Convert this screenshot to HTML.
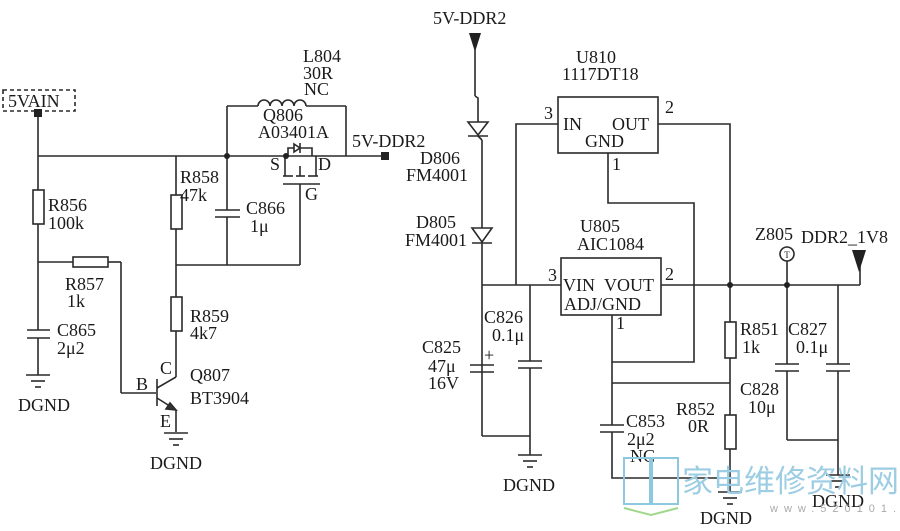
<!DOCTYPE html>
<html><head><meta charset="utf-8"><style>
html,body{margin:0;padding:0;background:#fff;}
svg{display:block;}
text{font-family:"Liberation Serif","Noto Serif CJK SC",serif;font-size:18px;fill:#1a1a1a;}
</style></head><body>
<svg width="900" height="531" viewBox="0 0 900 531" xmlns="http://www.w3.org/2000/svg">
<g stroke="#2a2a2a" stroke-width="1.6" fill="none">
<rect x="3" y="90" width="72" height="21" stroke-dasharray="4,3"/>
<line x1="38" y1="113" x2="38" y2="190"/>
<rect x="33" y="190" width="11" height="34" fill="#fff"/>
<line x1="38" y1="224" x2="38" y2="330"/>
<line x1="27" y1="330" x2="50" y2="330"/><line x1="27" y1="338" x2="50" y2="338"/>
<line x1="38" y1="338" x2="38" y2="375"/>
<line x1="26" y1="375" x2="50" y2="375"/><line x1="31" y1="381" x2="45" y2="381"/><line x1="35" y1="387" x2="41" y2="387"/>
<line x1="38" y1="156" x2="385" y2="156"/>
<line x1="38" y1="262" x2="73" y2="262"/>
<rect x="73" y="257" width="35" height="10" fill="#fff"/>
<line x1="108" y1="262" x2="121" y2="262"/>
<line x1="121" y1="262" x2="121" y2="393"/>
<line x1="121" y1="393" x2="156" y2="393"/>
<line x1="176" y1="156" x2="176" y2="195"/>
<rect x="171" y="195" width="11" height="34" fill="#fff"/>
<line x1="176" y1="229" x2="176" y2="297"/>
<line x1="176" y1="265" x2="300" y2="265"/>
<rect x="171" y="297" width="11" height="34" fill="#fff"/>
<line x1="176" y1="331" x2="176" y2="377"/>
<line x1="157" y1="379" x2="157" y2="406"/>
<line x1="157" y1="388" x2="176" y2="377"/>
<line x1="157" y1="398" x2="176" y2="410"/>
<polygon points="176,410 166,409 170,403" fill="#333"/>
<line x1="176" y1="410" x2="176" y2="432"/>
<line x1="164" y1="433" x2="188" y2="433"/><line x1="169" y1="439" x2="183" y2="439"/><line x1="173" y1="445" x2="179" y2="445"/>
<line x1="227" y1="156" x2="227" y2="210"/>
<line x1="215" y1="210" x2="240" y2="210"/><line x1="215" y1="217" x2="240" y2="217"/>
<line x1="227" y1="217" x2="227" y2="265"/>
<line x1="227" y1="156" x2="227" y2="106"/>
<line x1="227" y1="106" x2="258" y2="106"/>
<path d="M258,106 a6,6 0 0 1 12,0 a6,6 0 0 1 12,0 a6,6 0 0 1 12,0 a6,6 0 0 1 12,0"/>
<line x1="306" y1="106" x2="346" y2="106"/>
<line x1="346" y1="106" x2="346" y2="156"/>
<line x1="285" y1="156" x2="285" y2="176"/>
<line x1="316" y1="156" x2="316" y2="176"/>
<line x1="283" y1="176" x2="293" y2="176"/><line x1="296" y1="176" x2="305" y2="176"/><line x1="308" y1="176" x2="318" y2="176"/>
<line x1="300" y1="176" x2="300" y2="166"/>
<line x1="283" y1="184" x2="320" y2="184"/>
<line x1="300" y1="184" x2="300" y2="265"/>
<polyline points="288,156 288,148 312,148 312,156"/>
<polygon points="300,148 294,144 294,152" fill="#fff"/>
<line x1="300" y1="143" x2="300" y2="153"/>
<polygon points="469,33 481,33 475,52" fill="#222" stroke="none"/>
<line x1="475" y1="48" x2="475" y2="96"/>
<polyline points="475,96 478,98 478,122"/>
<polygon points="468,122 488,122 478,135" fill="#fff"/>
<line x1="468" y1="136" x2="488" y2="136"/>
<line x1="478" y1="136" x2="482" y2="140"/>
<line x1="482" y1="140" x2="482" y2="228"/>
<polygon points="472,228 492,228 482,242" fill="#fff"/>
<line x1="472" y1="243" x2="492" y2="243"/>
<line x1="482" y1="243" x2="482" y2="436"/>
<rect x="558" y="97" width="100" height="56"/>
<polyline points="558,124 516,124 516,285"/>
<polyline points="658,124 730,124 730,322"/>
<polyline points="608,153 608,203 694,203 694,362 612,362"/>
<rect x="561" y="258" width="100" height="57"/>
<line x1="482" y1="285" x2="561" y2="285"/>
<line x1="661" y1="285" x2="860" y2="285"/>
<line x1="612" y1="315" x2="612" y2="425"/>
<line x1="612" y1="383" x2="730" y2="383"/>
<line x1="600" y1="425" x2="624" y2="425"/><line x1="600" y1="432" x2="624" y2="432"/>
<polyline points="612,432 612,478 730,478"/>
<rect x="725" y="322" width="11" height="36" fill="#fff"/>
<line x1="730" y1="358" x2="730" y2="415"/>
<rect x="725" y="415" width="11" height="34" fill="#fff"/>
<line x1="730" y1="449" x2="730" y2="492"/>
<line x1="718" y1="492" x2="742" y2="492"/><line x1="723" y1="498" x2="737" y2="498"/><line x1="727" y1="504" x2="733" y2="504"/>
<line x1="470" y1="365" x2="494" y2="365"/><line x1="470" y1="372" x2="494" y2="372"/>
<line x1="482" y1="436" x2="530" y2="436"/>
<line x1="530" y1="285" x2="530" y2="361"/>
<line x1="518" y1="361" x2="542" y2="361"/><line x1="518" y1="368" x2="542" y2="368"/>
<line x1="530" y1="368" x2="530" y2="455"/>
<line x1="518" y1="455" x2="542" y2="455"/><line x1="523" y1="461" x2="537" y2="461"/><line x1="527" y1="467" x2="533" y2="467"/>
<circle cx="787" cy="254" r="7"/>
<line x1="787" y1="261" x2="787" y2="364"/>
<line x1="775" y1="364" x2="799" y2="364"/><line x1="775" y1="371" x2="799" y2="371"/>
<line x1="787" y1="371" x2="787" y2="440"/>
<line x1="787" y1="440" x2="838" y2="440"/>
<line x1="838" y1="285" x2="838" y2="364"/>
<line x1="826" y1="364" x2="850" y2="364"/><line x1="826" y1="371" x2="850" y2="371"/>
<line x1="838" y1="371" x2="838" y2="475"/>
<line x1="826" y1="475" x2="850" y2="475"/><line x1="831" y1="481" x2="845" y2="481"/><line x1="835" y1="487" x2="841" y2="487"/>
<line x1="860" y1="285" x2="860" y2="262"/>
</g>
<polygon points="852,250 866,250 859,272" fill="#222"/>
<g fill="#222">
<rect x="34" y="109" width="8" height="8"/>
<rect x="381" y="152" width="8" height="8"/>
<circle cx="227" cy="156" r="3"/><circle cx="286" cy="156" r="3"/>
<circle cx="730" cy="285" r="3"/><circle cx="787" cy="285" r="3"/>
</g>
<text x="787" y="258" font-size="9" text-anchor="middle" style="font-size:9px">T</text>
<text x="8" y="107">5VAIN</text>
<text x="303" y="62">L804</text><text x="303" y="79">30R</text><text x="304" y="95">NC</text>
<text x="263" y="121">Q806</text><text x="258" y="138">A03401A</text>
<text x="352" y="147">5V-DDR2</text>
<text x="270" y="170">S</text><text x="318" y="170">D</text><text x="305" y="200">G</text>
<text x="48" y="211">R856</text><text x="48" y="229">100k</text>
<text x="180" y="183">R858</text><text x="180" y="201">47k</text>
<text x="246" y="214">C866</text><text x="250" y="232">1μ</text>
<text x="65" y="290">R857</text><text x="67" y="307">1k</text>
<text x="57" y="336">C865</text><text x="57" y="354">2μ2</text>
<text x="18" y="411">DGND</text>
<text x="190" y="322">R859</text><text x="190" y="339">4k7</text>
<text x="160" y="374">C</text><text x="136" y="390">B</text><text x="160" y="427">E</text>
<text x="190" y="381">Q807</text><text x="190" y="404">BT3904</text>
<text x="150" y="469">DGND</text>
<text x="433" y="24">5V-DDR2</text>
<text x="420" y="164">D806</text><text x="406" y="181">FM4001</text>
<text x="416" y="228">D805</text><text x="405" y="246">FM4001</text>
<text x="576" y="63">U810</text><text x="562" y="80">1117DT18</text>
<text x="544" y="119">3</text><text x="665" y="113">2</text><text x="612" y="170">1</text>
<text x="563" y="130">IN</text><text x="612" y="130">OUT</text><text x="585" y="147">GND</text>
<text x="580" y="232">U805</text><text x="577" y="250">AIC1084</text>
<text x="548" y="281">3</text><text x="665" y="280">2</text><text x="616" y="329">1</text>
<text x="563" y="291">VIN</text><text x="604" y="291">VOUT</text><text x="564" y="310">ADJ/GND</text>
<text x="755" y="240">Z805</text><text x="801" y="243">DDR2_1V8</text>
<text x="484" y="323">C826</text><text x="492" y="341">0.1μ</text>
<text x="422" y="353">C825</text><text x="428" y="372">47μ</text><text x="428" y="389">16V</text>
<text x="484" y="361">+</text>
<text x="740" y="335">R851</text><text x="742" y="353">1k</text>
<text x="788" y="335">C827</text><text x="796" y="353">0.1μ</text>
<text x="740" y="395">C828</text><text x="748" y="413">10μ</text>
<text x="626" y="427">C853</text><text x="627" y="445">2μ2</text><text x="630" y="462">NC</text>
<text x="676" y="415">R852</text><text x="688" y="432">0R</text>
<text x="503" y="491">DGND</text>
<text x="700" y="524">DGND</text>
<text x="812" y="507">DGND</text>
<g stroke="#8cc8e0" stroke-width="2" fill="none">
<rect x="624" y="458" width="26" height="46"/><rect x="652" y="458" width="26" height="46"/>
</g>
<polyline points="624,508 651,515 678,508" stroke="#9fd88a" stroke-width="2" fill="none"/>
<text x="682" y="492" style="font-family:'Noto Sans CJK SC',sans-serif;font-size:31px;fill:#9ccde3">家电维修资料网</text>
<text x="770" y="512" style="font-family:'Liberation Sans',sans-serif;font-size:11px;fill:#aaa;letter-spacing:6px">www.520101.com</text>
</svg>
</body></html>
